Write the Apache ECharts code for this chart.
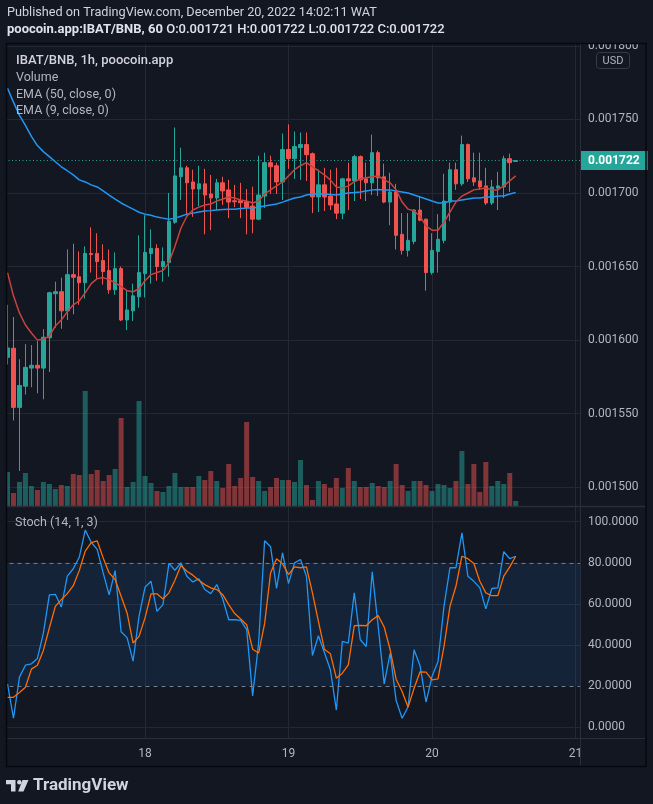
<!DOCTYPE html>
<html><head><meta charset="utf-8">
<script src="https://cdn.jsdelivr.net/npm/echarts@6/dist/echarts.min.js"></script>
<style>html,body{margin:0;padding:0;background:#131722;}#c{width:653px;height:804px;}</style>
</head><body><div id="c"></div>
<script>
// ---------- DATA (prices in 1e-6 BNB) ----------
const startLabel = '2022-12-17 01:00'; // first hourly candle
const dayLabels = ['18', '19', '20', '21'];
const open = [1588.3,1594.5,1554.3,1568.7,1581.0,1582.9,1581.0,1601.6,1631.5,1632.9,
1619.9,1644.5,1643.1,1639.0,1658.9,1658.9,1654.1,1647.3,1634.2,1648.6,
1613.7,1619.9,1629.4,1645.2,1658.9,1662.3,1650.0,1652.7,1680.1,1711.0,
1717.1,1707.5,1702.7,1706.2,1699.3,1696.6,1706.9,1702.1,1694.7,1694.7,
1694.0,1691.1,1682.2,1697.9,1720.6,1718.5,1707.5,1729.5,1723.3,1730.8,
1732.9,1726.7,1697.3,1705.5,1697.9,1692.5,1686.3,1709.6,1708.2,1724.7,
1709.6,1706.9,1727.4,1711.0,1693.8,1700.7,1671.9,1661.0,1667.1,1688.4,
1682.2,1645.9,1660.3,1667.8,1693.8,1715.8,1706.2,1732.9,1710.3,1708.2,
1704.8,1693.2,1703.4,1704.1,1723.3,1721.4];
const close = [1594.7,1554.3,1569.2,1581.5,1582.9,1581.0,1602.0,1632.2,1632.9,1619.9,
1644.5,1642.7,1639.0,1658.9,1658.2,1653.4,1646.6,1634.2,1648.6,1613.7,
1620.5,1630.1,1645.9,1659.6,1662.3,1650.0,1653.4,1680.8,1711.6,1717.1,
1706.9,1702.7,1706.2,1698.6,1696.6,1706.9,1701.4,1693.8,1694.0,1693.4,
1690.2,1682.2,1698.6,1720.6,1717.8,1707.5,1729.5,1723.3,1731.5,1732.9,
1726.0,1697.3,1705.5,1697.3,1691.8,1686.3,1709.6,1708.2,1724.7,1708.9,
1706.9,1727.4,1710.3,1693.8,1700.7,1671.2,1661.0,1667.8,1688.4,1681.5,
1645.9,1661.0,1668.5,1694.5,1715.8,1706.2,1732.9,1709.6,1707.5,1704.1,
1693.2,1704.1,1704.8,1723.3,1720.6,1722.0];
const low = [1583.5,1545.4,1511.1,1563.0,1568.0,1563.9,1559.8,1578.3,1608.4,1607.7,
1613.7,1617.6,1624.0,1628.3,1645.9,1641.8,1637.7,1631.5,1630.8,1613.0,
1606.8,1613.0,1622.1,1629.0,1638.4,1640.4,1639.7,1643.1,1679.0,1695.2,
1684.9,1683.8,1691.1,1671.9,1674.7,1688.4,1691.8,1682.9,1690.4,1682.9,
1671.9,1672.6,1681.5,1689.7,1699.3,1699.3,1695.2,1716.4,1709.6,1708.9,
1708.2,1686.3,1687.0,1687.7,1688.4,1682.2,1682.2,1688.4,1694.5,1695.9,
1694.5,1698.6,1697.9,1693.0,1678.1,1661.6,1658.2,1656.8,1665.1,1680.8,
1633.6,1644.5,1645.9,1665.8,1680.8,1702.1,1704.8,1707.5,1704.8,1702.1,
1691.8,1691.8,1688.4,1696.6,1700.7,1721.6];
const high = [1624.0,1615.7,1587.0,1597.3,1596.6,1599.3,1607.5,1632.9,1639.7,1642.5,
1661.6,1665.5,1660.3,1663.7,1676.7,1672.6,1665.1,1661.6,1659.6,1650.0,
1633.6,1638.4,1671.2,1684.9,1675.3,1665.1,1663.0,1700.0,1744.5,1730.8,
1718.5,1715.8,1718.5,1716.4,1712.3,1709.6,1711.0,1708.9,1705.5,1706.9,
1702.7,1704.3,1725.3,1727.4,1725.3,1720.6,1740.4,1746.6,1741.8,1741.1,
1741.1,1727.5,1715.8,1717.1,1715.8,1717.1,1710.3,1720.6,1726.0,1725.5,
1720.6,1739.7,1728.8,1719.9,1713.7,1706.2,1686.3,1686.3,1689.0,1697.9,
1682.5,1672.6,1685.6,1713.0,1720.6,1720.6,1739.0,1733.6,1727.4,1727.4,
1717.1,1708.9,1714.4,1725.3,1726.7,1722.0];
const volume = [34,13,24,33,20,16,24,22,17,21,
20,32,31,115,32,36,25,31,37,88,
19,24,105,30,23,15,14,20,33,19,
19,19,30,26,35,25,18,42,20,28,
84,29,25,15,19,28,26,26,24,46,
21,6,25,22,18,28,18,38,25,19,
19,23,20,19,25,42,21,15,25,25,
21,15,22,21,18,25,55,22,42,14,
44,20,25,22,33,5];
const ema50 = [1771.2,1761.7,1752.7,1745.9,1738.4,1732.2,1728.1,1724.7,1721.2,1717.8,
1715.1,1712.3,1708.9,1707.5,1705.5,1704.1,1701.4,1698.6,1695.9,1693.2,
1691.1,1689.0,1686.9,1685.6,1684.9,1683.6,1682.9,1682.2,1682.9,1684.2,
1685.6,1686.3,1687.0,1687.7,1688.0,1688.4,1688.7,1689.0,1689.0,1689.4,
1689.7,1689.7,1690.4,1691.1,1691.8,1692.5,1693.8,1695.2,1696.6,1697.3,
1698.6,1699.3,1699.3,1699.3,1699.0,1698.6,1699.3,1700.0,1700.3,1700.7,
1701.4,1702.1,1702.4,1702.1,1702.1,1701.4,1700.7,1700.0,1698.6,1697.3,
1695.9,1694.5,1693.2,1693.2,1694.5,1694.5,1695.2,1695.9,1696.6,1696.6,
1697.3,1697.3,1697.9,1697.9,1699.3,1700.3];
const ema9 = [1645.9,1630.1,1618.5,1610.3,1604.8,1600.0,1600.7,1602.7,1609.6,1613.7,
1619.2,1624.0,1626.7,1632.2,1638.4,1641.8,1642.5,1641.1,1639.0,1636.3,
1633.6,1632.9,1634.9,1640.4,1644.5,1645.9,1647.3,1652.7,1663.7,1676.0,
1684.2,1688.4,1690.4,1691.8,1692.5,1694.5,1695.9,1697.3,1696.6,1695.2,
1694.5,1693.2,1694.5,1699.3,1702.1,1704.8,1707.5,1711.6,1715.8,1718.5,
1720.6,1717.8,1715.1,1712.3,1708.9,1704.1,1703.4,1704.8,1707.5,1709.6,
1710.3,1711.0,1711.6,1708.9,1706.9,1702.1,1693.8,1689.0,1687.7,1684.2,
1677.4,1674.7,1674.7,1680.1,1687.0,1693.8,1697.9,1700.0,1702.1,1702.7,
1703.4,1702.1,1702.1,1704.8,1708.2,1711.6];
const stochK = [21.1,4.4,24.4,30.2,30.9,33.5,45.8,64.4,64.7,58.5,
73.5,77.1,82.7,95.9,90.0,86.5,75.1,64.4,76.2,46.5,
43.6,32.2,54.0,68.1,71.0,56.4,59.7,79.7,76.4,80.0,
73.5,70.7,72.2,67.0,65.0,69.4,62.4,52.3,52.3,52.0,
47.5,15.3,41.0,90.7,87.8,67.6,84.9,69.9,80.0,81.6,
73.5,34.9,44.5,36.4,28.0,8.4,41.8,41.0,65.4,42.6,
39.3,75.6,49.1,21.1,36.1,13.0,4.4,10.0,37.7,29.9,
12.2,24.7,32.0,58.8,77.6,77.6,94.6,73.5,71.0,67.8,
57.6,67.5,67.8,85.4,82.0,83.2];
const stochD = [14.6,14.6,16.9,19.5,28.3,30.2,37.4,48.3,58.8,62.1,
65.0,68.9,76.2,85.7,89.8,90.7,82.4,75.1,71.9,63.7,
55.6,41.0,44.2,53.2,64.9,64.9,62.4,65.4,71.5,78.7,
75.9,74.0,71.5,69.4,67.8,67.0,64.5,59.7,55.3,52.7,
49.9,38.0,36.1,50.4,75.1,82.0,79.5,74.3,78.0,77.6,
78.0,65.4,51.5,38.0,35.8,23.9,26.3,30.4,49.4,49.6,
49.4,52.3,54.3,48.8,37.7,23.4,17.4,9.8,19.0,27.0,
26.8,23.1,23.6,39.3,58.8,68.6,83.2,82.0,79.7,71.0,
65.4,64.0,64.0,73.5,78.0,83.2];
const priceTicks = [1500, 1550, 1600, 1650, 1700, 1750, 1800];
const stochTicks = [0, 20, 40, 60, 80, 100];
const stochBands = [20, 80];

// ---------- LAYOUT / STYLE ----------
const BG = '#131722', GRIDC = '#242832', TXT = '#b2b5be', SEP = '#2a2e39';
const FONT = 'Roboto, "Noto Sans", sans-serif';
const UP = '#26a69a', DOWN = '#ef5350';
const L = 1.52, R = 73, XMAX = 96.75;

// hours since 2022-12-17 00:00 for each hourly candle
const hours = open.map((_, i) => i + 1);
const candles = hours.map((h, i) => [h, open[i], close[i], low[i], high[i]]);
const fmtP = v => (v / 1e6).toFixed(6);
const last = open.length - 1;

const chart = echarts.init(document.getElementById('c'));

const xAx = g => ({
  type: 'value', gridIndex: g, min: 0, max: XMAX, interval: 24,
  show: g === 1 || g === 3,
  axisLine: { show: false }, axisTick: { show: false },
  axisLabel: { show: g === 3, showMinLabel: false, showMaxLabel: false, margin: 10,
    color: TXT, fontSize: 12, fontFamily: FONT,
    formatter: v => dayLabels[Math.round(v / 24) - 1] || '' },
  splitLine: { show: g === 1 || g === 3, showMinLine: false, showMaxLine: false,
    lineStyle: { color: GRIDC, width: 1 } }
});

const option = {
  backgroundColor: BG,
  animation: false,
  grid: [
    { left: L, right: R, top: 45.8, bottom: 316.7, containLabel: false, outerBoundsMode: 'none' },
    { left: L, right: R, top: 43, bottom: 298, containLabel: false, outerBoundsMode: 'none' },
    { left: L, right: R, top: 521.7, bottom: 76.7, containLabel: false, outerBoundsMode: 'none' },
    { left: L, right: R, top: 507, bottom: 66, containLabel: false, outerBoundsMode: 'none' }
  ],
  xAxis: [xAx(0), xAx(1), xAx(2), xAx(3)],
  yAxis: [
    { type: 'value', gridIndex: 0, position: 'right', min: priceTicks[0], max: priceTicks[priceTicks.length - 1], interval: 50,
      axisLine: { show: false }, axisTick: { show: false },
      axisLabel: { margin: 8, color: TXT, fontSize: 12, fontFamily: FONT, formatter: fmtP },
      splitLine: { lineStyle: { color: GRIDC, width: 1 } } },
    { type: 'value', gridIndex: 1, show: false, min: 0, max: 463, splitLine: { show: false } },
    { type: 'value', gridIndex: 2, position: 'right', min: stochTicks[0], max: stochTicks[stochTicks.length - 1], interval: 20,
      axisLine: { show: false }, axisTick: { show: false },
      axisLabel: { margin: 8, color: TXT, fontSize: 12, fontFamily: FONT, formatter: v => v.toFixed(4) },
      splitLine: { lineStyle: { color: stochTicks.map(t => stochBands.includes(t) ? 'rgba(0,0,0,0)' : GRIDC), width: 1 } } },
    { type: 'value', gridIndex: 3, show: false, min: 0, max: 1, splitLine: { show: false } }
  ],
  series: [
    { type: 'bar', name: 'Volume', xAxisIndex: 1, yAxisIndex: 1, barWidth: 5,
      data: hours.map((h, i) => ({ value: [h, volume[i]],
        itemStyle: { color: close[i] >= open[i] ? 'rgba(38,166,154,0.5)' : 'rgba(239,83,80,0.5)' } })) },
    { type: 'candlestick', name: 'IBAT/BNB', xAxisIndex: 0, yAxisIndex: 0, barWidth: 4,
      encode: { x: 0, y: [1, 2, 3, 4] }, data: candles,
      itemStyle: { color: UP, color0: DOWN, borderColor: UP, borderColor0: DOWN, borderWidth: 1 },
      markLine: { silent: true, symbol: ['none', 'none'], animation: false,
        lineStyle: { color: UP, type: [1, 2.5], width: 1 },
        label: { show: true, position: 'end', distance: 0, formatter: p => fmtP(p.value),
          backgroundColor: UP, color: '#ffffff', fontSize: 12, fontWeight: 'bold', fontFamily: FONT,
          padding: [4, 8, 3, 8] },
        data: [{ yAxis: close[last] }] } },
    { type: 'line', name: 'EMA50', xAxisIndex: 0, yAxisIndex: 0, symbol: 'none',
      data: hours.map((h, i) => [h, ema50[i]]), lineStyle: { color: '#2196f3', width: 1.5 } },
    { type: 'line', name: 'EMA9', xAxisIndex: 0, yAxisIndex: 0, symbol: 'none',
      data: hours.map((h, i) => [h, ema9[i]]), lineStyle: { color: '#c8433d', width: 1.5 } },
    { type: 'line', name: '%K', xAxisIndex: 2, yAxisIndex: 2, symbol: 'none',
      data: hours.map((h, i) => [h, stochK[i]]), lineStyle: { color: '#2196f3', width: 1.3 },
      markArea: { silent: true, itemStyle: { color: 'rgba(33,150,243,0.10)' },
        data: [[{ yAxis: stochBands[0] }, { yAxis: stochBands[1] }]] },
      markLine: { silent: true, symbol: ['none', 'none'], label: { show: false },
        lineStyle: { color: '#787b86', type: [4, 4], width: 1 },
        data: stochBands.map(b => ({ yAxis: b })) } },
    { type: 'line', name: '%D', xAxisIndex: 2, yAxisIndex: 2, symbol: 'none',
      data: hours.map((h, i) => [h, stochD[i]]), lineStyle: { color: '#ff6d00', width: 1.3 } }
  ],
  graphic: { elements: [
    { type: 'rect', z: 100, shape: { x: 0, y: 40, width: 6.5, height: 730 }, style: { fill: BG } },
    { type: 'rect', z: 100, shape: { x: 581, y: 33, width: 72, height: 10.5 }, style: { fill: BG } },
    { type: 'rect', z: 100, shape: { x: 581, y: 739.5, width: 64, height: 27 }, style: { fill: BG } },
    { type: 'line', z: 101, shape: { x1: 6.5, y1: 506.5, x2: 646, y2: 506.5 }, style: { stroke: SEP, lineWidth: 1.5 } },
    { type: 'line', z: 101, shape: { x1: 6.5, y1: 738.5, x2: 646, y2: 738.5 }, style: { stroke: SEP, lineWidth: 1 } },
    { type: 'line', z: 101, shape: { x1: 580.5, y1: 43, x2: 580.5, y2: 767 }, style: { stroke: SEP, lineWidth: 1 } },
    { type: 'rect', z: 102, shape: { x: 6.5, y: 43.5, width: 639.5, height: 723 }, style: { fill: null, stroke: '#06080c', lineWidth: 1.5 } },
    { type: 'rect', z: 103, shape: { x: 596.5, y: 52.5, width: 33, height: 16, r: 3 }, style: { fill: BG, stroke: '#363a45', lineWidth: 1 } },
    { type: 'text', z: 104, style: { x: 613, y: 61, text: 'USD', fill: TXT, font: '11px ' + FONT, align: 'center', verticalAlign: 'middle' } },
    { type: 'text', z: 104, style: { x: 7, y: 13, text: 'Published on TradingView.com, December 20, 2022 14:02:11 WAT', fill: '#d1d4dc', font: '12.7px ' + FONT, verticalAlign: 'middle' } },
    { type: 'text', z: 104, style: { x: 7, y: 30, verticalAlign: 'middle',
      text: '{b|poocoin.app:IBAT/BNB, 60} {n|O:' + fmtP(open[last]) + ' H:' + fmtP(high[last]) + ' L:' + fmtP(low[last]) + ' C:' + fmtP(close[last]) + '}',
      rich: { b: { fill: '#e0e3eb', font: 'bold 13px ' + FONT }, n: { fill: '#e0e3eb', font: '500 13px ' + FONT } } } },
    { type: 'text', z: 104, style: { x: 16, y: 61, text: 'IBAT/BNB, 1h, poocoin.app', fill: '#d1d4dc', font: '500 13px ' + FONT, verticalAlign: 'middle' } },
    { type: 'text', z: 104, style: { x: 16, y: 78, text: 'Volume', fill: TXT, font: '12.5px ' + FONT, verticalAlign: 'middle' } },
    { type: 'text', z: 104, style: { x: 16, y: 95, text: 'EMA (50, close, 0)', fill: TXT, font: '12.5px ' + FONT, verticalAlign: 'middle' } },
    { type: 'text', z: 104, style: { x: 16, y: 111, text: 'EMA (9, close, 0)', fill: TXT, font: '12.5px ' + FONT, verticalAlign: 'middle' } },
    { type: 'text', z: 104, style: { x: 15, y: 523, text: 'Stoch (14, 1, 3)', fill: TXT, font: '12.5px ' + FONT, verticalAlign: 'middle' } },
    { type: 'polygon', z: 104, shape: { points: [[6,780],[15.5,780],[15.5,791.5],[11,791.5],[11,784.2],[6,784.2]] }, style: { fill: '#d1d4dc' } },
    { type: 'circle', z: 104, shape: { cx: 19.3, cy: 782.2, r: 2.2 }, style: { fill: '#d1d4dc' } },
    { type: 'polygon', z: 104, shape: { points: [[22.5,780],[28.5,780],[23.5,791.5],[18.2,791.5]] }, style: { fill: '#d1d4dc' } },
    { type: 'text', z: 104, style: { x: 33, y: 786, text: 'TradingView', fill: '#d1d4dc', font: 'bold 17px ' + FONT, verticalAlign: 'middle' } }
  ] }
};
chart.setOption(option);
</script>
</body></html>
